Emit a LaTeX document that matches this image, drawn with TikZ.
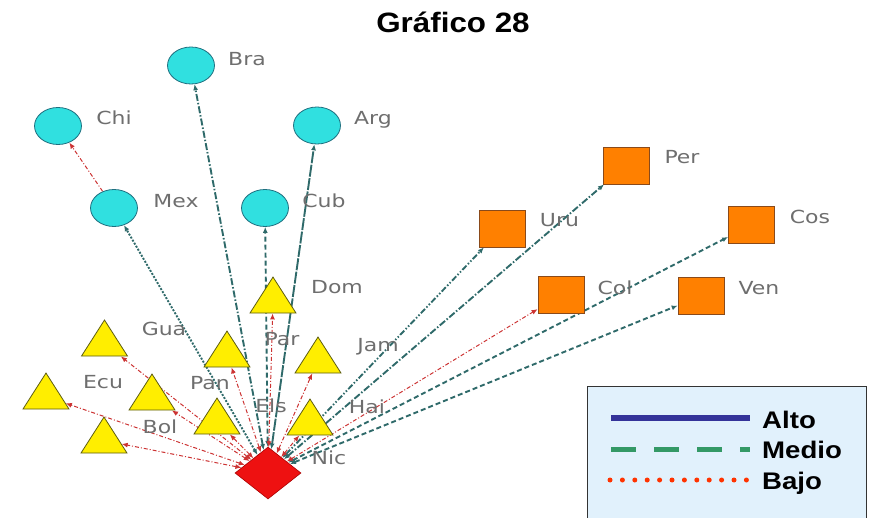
\documentclass[tikz,border=0pt]{standalone}
\usepackage{fontspec}
\usepackage{graphicx}
\setmainfont{DejaVu Sans}
\newfontfamily\arialfont{Liberation Sans}
\usetikzlibrary{shapes.geometric,arrows.meta}
\definecolor{circfill}{HTML}{30E0E0}
\definecolor{circline}{HTML}{1F6F7F}
\definecolor{trifill}{HTML}{FFEE00}
\definecolor{triline}{HTML}{5C5C10}
\definecolor{sqfill}{HTML}{FF8000}
\definecolor{sqline}{HTML}{8A4A1A}
\definecolor{diafill}{HTML}{EE1111}
\definecolor{dialine}{HTML}{AA0000}
\definecolor{edgeteal}{HTML}{2F6A6A}
\definecolor{edgered}{HTML}{CC3333}
\definecolor{labgray}{HTML}{6E6E6E}
\definecolor{legfill}{HTML}{E1F1FC}
\definecolor{altoc}{HTML}{333399}
\definecolor{medioc}{HTML}{339966}
\definecolor{bajoc}{HTML}{FF3300}
\pgfdeclarelayer{bg}
\pgfsetlayers{bg,main}
\newcommand\lblx[1]{\scalebox{1.22}[1]{#1}}
\begin{document}
\begin{tikzpicture}[x=1pt,y=-1pt,
  circ/.style={ellipse,draw=circline,fill=circfill,line width=0.8pt,minimum width=47pt,minimum height=37pt,inner sep=0pt},
  tri/.style={isosceles triangle,isosceles triangle stretches,shape border rotate=90,draw=triline,fill=trifill,line width=0.8pt,minimum width=46pt,minimum height=36pt,inner sep=0pt,anchor=apex},
  sq/.style={rectangle,draw=sqline,fill=sqfill,line width=0.8pt,minimum width=46pt,minimum height=37pt,inner sep=0pt},
  dia/.style={diamond,draw=dialine,fill=diafill,line width=0.6pt,minimum width=66pt,minimum height=52pt,inner sep=0pt},
  lab/.style={text=labgray,font=\fontsize{18}{20}\selectfont,inner sep=0pt,anchor=base},
  tip/.style={{Latex[length=6pt,width=5pt]}-{Latex[length=6pt,width=5pt]}},
  tealln/.style={draw=edgeteal,line width=1.9pt,tip},
  redln/.style={draw=edgered,line width=1pt,dash pattern=on 4pt off 2pt on 1pt off 2pt,tip},
  dashdot/.style={dash pattern=on 7pt off 2pt on 1.5pt off 2pt},
  dashdotdot/.style={dash pattern=on 6pt off 2pt on 1.5pt off 2pt on 1.5pt off 2pt},
  shortdash/.style={dash pattern=on 5pt off 3pt},
  dotted2/.style={dash pattern=on 2pt off 1.5pt},
  longdash/.style={dash pattern=on 12pt off 1.5pt},
  legtext/.style={font=\arialfont\bfseries\fontsize{24}{26}\selectfont,inner sep=0pt,anchor=base west}
]
\useasboundingbox (0,0) rectangle (883,518);

% title
\node[font=\arialfont\bfseries\fontsize{28}{30}\selectfont,inner sep=0pt,anchor=base] (title) at (453,33) {\scalebox{1.12}[1]{Gráfico 28}};

% circles
\node[circ] (Bra) at (191,65.5) {};
\node[circ] (Chi) at (58,126) {};
\node[circ] (Arg) at (317,125.5) {};
\node[circ] (Mex) at (114,208) {};
\node[circ] (Cub) at (265,208) {};

% triangles
\node[tri] (Dom) at (273,276) {};
\node[tri] (Gua) at (104.5,319) {};
\node[tri] (Par) at (227,330) {};
\node[tri] (Jam) at (318,336) {};
\node[tri] (Ecu) at (46,372) {};
\node[tri] (Pan) at (152,373) {};
\node[tri] (Els) at (217,397) {};
\node[tri] (Hai) at (310,398) {};
\node[tri] (Bol) at (104,416) {};

% squares
\node[sq] (Per) at (626,165.5) {};
\node[sq] (Uru) at (502,228.5) {};
\node[sq] (Cos) at (751.5,225) {};
\node[sq] (Col) at (561,295) {};
\node[sq] (Ven) at (701,296) {};

% diamond
\node[dia] (Nic) at (268,473) {};

% labels
\node[lab] (Bra-l) at (247,65.5) {\lblx{Bra}};
\node[lab] (Chi-l) at (114,124.5) {\lblx{Chi}};
\node[lab] (Arg-l) at (373,124.5) {\lblx{Arg}};
\node[lab] (Mex-l) at (176,207.5) {\lblx{Mex}};
\node[lab] (Cub-l) at (324,207.5) {\lblx{Cub}};
\node[lab] (Dom-l) at (337,293.5) {\lblx{Dom}};
\node[lab] (Gua-l) at (164,335.5) {\lblx{Gua}};
\node[lab] (Par-l) at (282,345.5) {\lblx{Par}};
\node[lab] (Jam-l) at (378,351.5) {\lblx{Jam}};
\node[lab] (Ecu-l) at (103,388.5) {\lblx{Ecu}};
\node[lab] (Pan-l) at (210,389.5) {\lblx{Pan}};
\node[lab] (Els-l) at (271,412.5) {\lblx{Els}};
\node[lab] (Hai-l) at (367,413.5) {\lblx{Hai}};
\node[lab] (Bol-l) at (160,433.5) {\lblx{Bol}};
\node[lab] (Nic-l) at (329,464.5) {\lblx{Nic}};
\node[lab] (Per-l) at (682,163.5) {\lblx{Per}};
\node[lab] (Uru-l) at (559.5,226.5) {\lblx{Uru}};
\node[lab] (Cos-l) at (810,223.5) {\lblx{Cos}};
\node[lab] (Col-l) at (615,294.5) {\lblx{Col}};
\node[lab] (Ven-l) at (759,294.5) {\lblx{Ven}};

% connectors
\begin{pgfonlayer}{bg}
\draw[tealln,dashdot] (Nic) -- (Bra);
\draw[tealln,dotted2] (Nic) -- (Mex);
\draw[tealln,shortdash] (Nic) -- (Cub);
\draw[tealln,longdash] (Nic) -- (Arg);
\draw[tealln,dashdotdot] (Nic) -- (Uru);
\draw[tealln,dashdot] (Nic) -- (Per);
\draw[tealln,shortdash] (Nic) -- (Cos);
\draw[tealln,shortdash] (Nic) -- (Ven);
\draw[redln] (Nic) -- (Dom);
\draw[redln] (Nic) -- (Par);
\draw[redln] (Nic) -- (Jam);
\draw[redln] (Nic) -- (Els);
\draw[redln] (Nic) -- (Hai);
\draw[redln] (Nic) -- (Pan);
\draw[redln] (Nic) -- (Gua);
\draw[redln] (Nic) -- (Ecu);
\draw[redln] (Nic) -- (Bol);
\draw[redln] (Nic) -- (Col);
\draw[redln,-{Latex[length=6pt,width=5pt]}] (Mex) -- (Chi);
\end{pgfonlayer}

% legend
\node[draw=black!80,fill=legfill,line width=1pt,minimum width=279pt,minimum height=140pt,inner sep=0pt,anchor=north west] (legend) at (587,386) {};
\coordinate (altoA) at (611,417.5);
\coordinate (altoB) at (750,417.5);
\coordinate (medioA) at (611,449);
\coordinate (medioB) at (750,449);
\draw[altoc,line width=6pt] (altoA) -- (altoB);
\draw[medioc,line width=5pt,dash pattern=on 25pt off 18pt] (medioA) -- (medioB);
\foreach \i in {0,...,11} \fill[bajoc] (610+\i*12.4,480) circle (2.5pt);
\node[legtext] (alto) at (762,428) {\scalebox{1.15}[1]{Alto}};
\node[legtext] (medio) at (762,458.5) {\scalebox{1.15}[1]{Medio}};
\node[legtext] (bajo) at (762,489) {\scalebox{1.15}[1]{Bajo}};
\end{tikzpicture}
\end{document}
